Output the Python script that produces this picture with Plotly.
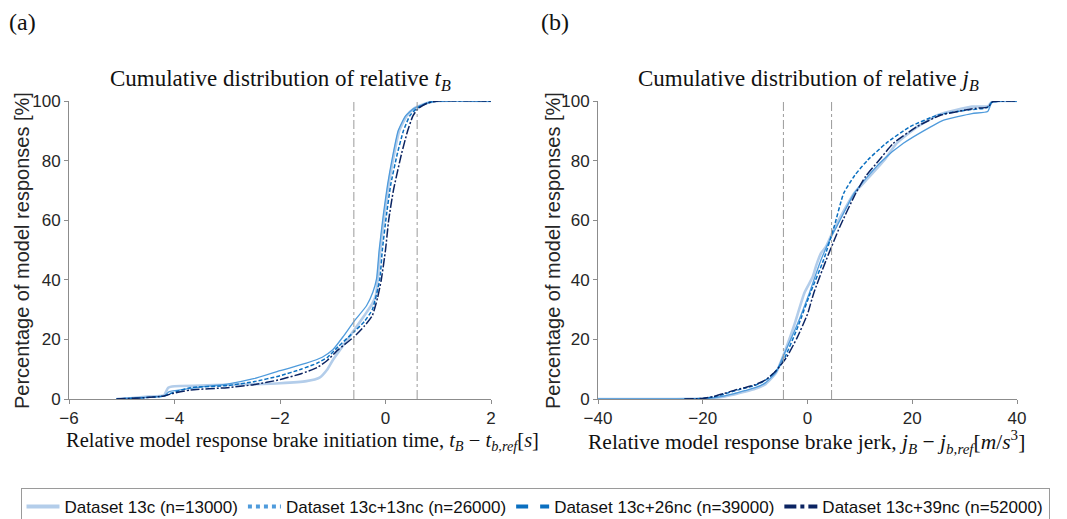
import plotly.graph_objects as go

W, H = 1067, 519
OFF = 8  # page body margin
FW, FH = W - OFF, H - OFF

series_names = ["Dataset 13c (n=13000)", "Dataset 13c+13nc (n=26000)",
                "Dataset 13c+26nc (n=39000)", "Dataset 13c+39nc (n=52000)"]

# ---- panel (a): relative t_B ----
tb_13c_x = [-5.1, -4.8, -4.5, -4.2, -4.12, -4.0, -3.5, -3.0, -2.5, -2.0, -1.5, -1.25, -1.1, -1.0, -0.8, -0.6,
            -0.4, -0.25, -0.18, -0.1, -0.02, 0.06, 0.14, 0.26, 0.4, 0.55, 0.8, 1.0, 2.0]
tb_13c_y = [0, 0.3, 0.8, 1.2, 3.8, 4.3, 4.5, 4.8, 5.0, 5.3, 6.0, 7.2, 10, 13, 18, 23,
            28, 32, 35, 50, 62, 72, 80, 90, 95, 97.6, 99.4, 100, 100]
tb_13nc_x = [-5.1, -4.6, -4.2, -4.1, -3.8, -3.5, -3.0, -2.5, -2.0, -1.5, -1.2, -1.0, -0.8, -0.6, -0.36,
             -0.24, -0.17, -0.12, -0.04, 0.04, 0.12, 0.24, 0.38, 0.55, 0.8, 1.0, 2.0]
tb_13nc_y = [0, 0.5, 1.0, 2.5, 3.3, 4.0, 5.0, 6.8, 9.5, 12, 14, 16.5, 21, 26, 31.3,
             35.8, 40.3, 50, 62, 72, 80, 90, 95, 97.6, 99.4, 100, 100]
tb_26nc_x = [-5.1, -4.6, -4.2, -4.05, -3.7, -3.0, -2.5, -2.0, -1.6, -1.3, -1.1, -0.9, -0.6, -0.4, -0.25,
             -0.11, -0.06, 0.02, 0.1, 0.22, 0.34, 0.46, 0.6, 0.8, 1.0, 2.0]
tb_26nc_y = [0, 0.4, 1.0, 2.0, 3.8, 4.5, 5.8, 7.8, 10, 12, 14, 17.5, 22.5, 26, 30,
             40, 50, 62, 72, 82, 90, 95, 97.6, 99.4, 100, 100]
tb_39nc_x = [-5.1, -4.6, -4.2, -4.05, -3.7, -3.0, -2.5, -2.0, -1.6, -1.3, -1.1, -0.9, -0.6, -0.4, -0.25,
             -0.15, -0.08, 0.0, 0.06, 0.15, 0.3, 0.42, 0.52, 0.62, 0.8, 1.0, 2.0]
tb_39nc_y = [0, 0.4, 1.0, 1.8, 3.0, 3.8, 4.8, 6.5, 8.5, 10.5, 13, 16.5, 20.8, 24.5, 28,
             34, 40, 50, 60, 70, 82, 90, 95, 97.5, 99.3, 100, 100]
tb_limits = [-0.6, 0.6]

# ---- panel (b): relative j_B ----
jb_13c_x = [-40, -30, -25, -20, -18, -16, -14, -12, -10, -8, -6, -4.9, -2.6, -0.6, 1.0, 1.7, 2.6, 3.5,
            5.3, 8.9, 11.5, 14.7, 17, 21, 24.9, 31.4, 34.5, 35.2, 37, 40]
jb_13c_y = [0, 0, 0, 0.1, 0.3, 0.8, 1.5, 2.4, 3.4, 5, 8.8, 13.3, 24.4, 35.6, 41, 45, 49, 51,
            57.9, 69, 74, 80.2, 85.8, 91.4, 95.3, 98.1, 98.3, 99.7, 100, 100]
jb_13nc_x = [-40, -30, -25, -20, -18, -16, -14, -12, -10, -8, -6, -4.9, -2.1, 0.36, 2.6, 4.6, 5.6,
             8.9, 11.5, 14.4, 18.3, 23.6, 26, 31.4, 34.4, 35.2, 37, 40]
jb_13nc_y = [0, 0, 0, 0.1, 0.4, 1.0, 1.8, 2.8, 3.8, 5.5, 9, 13.3, 24.4, 35.6, 46.8, 54.6, 57.9,
             69, 74.7, 80.2, 85.8, 91.4, 93.6, 95.8, 96.5, 99.5, 100, 100]
jb_26nc_x = [-23.5, -20, -18, -16, -14, -12, -10, -8, -6, -4.5, -1.8, 0.55, 3.1, 5.1, 6.9, 9, 11.5,
             15, 19.6, 24.9, 30.7, 34.3, 35.2, 37, 40]
jb_26nc_y = [0, 0.2, 0.7, 1.6, 2.7, 3.6, 4.6, 6.3, 9.5, 13.3, 24.4, 35.6, 46.8, 57.9, 69, 75, 80.2,
             85.8, 91.4, 95.3, 97, 97.8, 99.6, 100, 100]
jb_39nc_x = [-23.5, -20, -18, -16, -14, -12, -10, -8, -6, -4, -2, 0, 1.2, 3.6, 6.2, 9.2, 11.1, 13.7,
             16.4, 20.9, 25.5, 32, 34.5, 35.3, 37, 40]
jb_39nc_y = [0, 0.2, 0.8, 1.8, 2.9, 3.8, 4.8, 6.4, 9.5, 14, 20.5, 28.5, 35.6, 46.8, 57.9, 69, 74.7, 80.2,
             85.8, 91.4, 95.3, 97.5, 98, 99.7, 100, 100]
jb_limits = [-4.6, 4.6]

x_ticks_a = [-6, -4, -2, 0, 2]
x_ticks_b = [-40, -20, 0, 20, 40]
y_ticks = [0, 20, 40, 60, 80, 100]

colors = ["#b3cdea", "#4f9bdc", "#0a6fc0", "#0b2462"]
plot_styles = [dict(width=2.6, dash="solid"), dict(width=1.3, dash="solid"),
               dict(width=1.5, dash="4px,2px"), dict(width=1.5, dash="9px,2px,2px,2px")]
legend_styles = ["solid", "dot", "dash", "dashdot"]

fig = go.Figure()

panel_a = [(tb_13c_x, tb_13c_y), (tb_13nc_x, tb_13nc_y), (tb_26nc_x, tb_26nc_y), (tb_39nc_x, tb_39nc_y)]
panel_b = [(jb_13c_x, jb_13c_y), (jb_13nc_x, jb_13nc_y), (jb_26nc_x, jb_26nc_y), (jb_39nc_x, jb_39nc_y)]

for i, (xs, ys) in enumerate(panel_a):
    fig.add_trace(go.Scatter(x=xs, y=ys, mode="lines", xaxis="x", yaxis="y", showlegend=False,
                             line=dict(color=colors[i], shape="spline", smoothing=0.5, **plot_styles[i])))
for i, (xs, ys) in enumerate(panel_b):
    fig.add_trace(go.Scatter(x=xs, y=ys, mode="lines", xaxis="x2", yaxis="y2", showlegend=False,
                             line=dict(color=colors[i], shape="spline", smoothing=0.5, **plot_styles[i])))
for i, name in enumerate(series_names):
    fig.add_trace(go.Scatter(x=[None], y=[None], mode="lines", name=name, xaxis="x", yaxis="y",
                             line=dict(color=colors[i], width=4, dash=legend_styles[i])))

def px_x(p):
    return (p - OFF) / FW

def px_y(p):
    return 1 - (p - OFF) / FH

axis_common = dict(showline=True, linecolor="#8c8c8c", linewidth=1, ticks="outside", ticklen=4,
                   tickcolor="#8c8c8c", showgrid=False, zeroline=False, mirror=False, automargin=False,
                   tickfont=dict(family="Liberation Sans, Arial, sans-serif", size=17, color="#262626"))

fig.update_layout(
    width=FW, height=FH, margin=dict(l=0, r=0, t=0, b=0, autoexpand=False),
    paper_bgcolor="white", plot_bgcolor="white",
    xaxis=dict(domain=[px_x(69), px_x(491)], range=[-6, 2], tickvals=x_ticks_a, anchor="y", **axis_common),
    yaxis=dict(domain=[px_y(399), px_y(101)], range=[0, 100], tickvals=y_ticks, anchor="x", **axis_common),
    xaxis2=dict(domain=[px_x(598), px_x(1017)], range=[-40, 40], tickvals=x_ticks_b, anchor="y2", **axis_common),
    yaxis2=dict(domain=[px_y(399), px_y(101)], range=[0, 100], tickvals=y_ticks, anchor="x2", **axis_common),
    legend=dict(orientation="h", x=px_x(535), xanchor="center", y=px_y(488), yanchor="top",
                bordercolor="#9a9a9a", borderwidth=1, bgcolor="white",
                font=dict(family="Liberation Sans, Arial, sans-serif", size=17, color="#111"),
                itemwidth=33, tracegroupgap=0),
    showlegend=True,
)

for lim in tb_limits:
    fig.add_shape(type="line", xref="x", yref="y", x0=lim, x1=lim, y0=0, y1=100,
                  line=dict(color="#9a9a9a", width=1, dash="dashdot"))
for lim in jb_limits:
    fig.add_shape(type="line", xref="x2", yref="y2", x0=lim, x1=lim, y0=0, y1=100,
                  line=dict(color="#9a9a9a", width=1, dash="dashdot"))

serif = "Liberation Serif, Times New Roman, serif"
sans = "Liberation Sans, Arial, sans-serif"
ann = [
    dict(text="(a)", x=px_x(7), y=px_y(22), xanchor="left", yanchor="middle", font=dict(family=serif, size=24, color="#111")),
    dict(text="(b)", x=px_x(539), y=px_y(22), xanchor="left", yanchor="middle", font=dict(family=serif, size=24, color="#111")),
    dict(text="Cumulative distribution of relative <i>t<sub>B</sub></i>", x=px_x(280), y=px_y(80),
         xanchor="center", yanchor="middle", font=dict(family=serif, size=23, color="#111")),
    dict(text="Cumulative distribution of relative <i>j<sub>B</sub></i>", x=px_x(808), y=px_y(80),
         xanchor="center", yanchor="middle", font=dict(family=serif, size=23, color="#111")),
    dict(text="Relative model response brake initiation time, <i>t<sub>B</sub></i> − <i>t<sub>b,ref</sub></i>[<i>s</i>]",
         x=px_x(302), y=px_y(441), xanchor="center", yanchor="middle", font=dict(family=serif, size=20.5, color="#111")),
    dict(text="Relative model response brake jerk, <i>j<sub>B</sub></i> − <i>j<sub>b,ref</sub></i>[<i>m</i>/<i>s</i><sup>3</sup>]",
         x=px_x(806), y=px_y(442), xanchor="center", yanchor="middle", font=dict(family=serif, size=21.5, color="#111")),
    dict(text="Percentage of model responses [%]", x=px_x(22), y=px_y(251), textangle=-90,
         xanchor="center", yanchor="middle", font=dict(family=sans, size=20, color="#262626")),
    dict(text="Percentage of model responses [%]", x=px_x(553), y=px_y(251), textangle=-90,
         xanchor="center", yanchor="middle", font=dict(family=sans, size=20, color="#262626")),
]
for a in ann:
    fig.add_annotation(xref="paper", yref="paper", showarrow=False, **a)

fig.write_html("out.html")
